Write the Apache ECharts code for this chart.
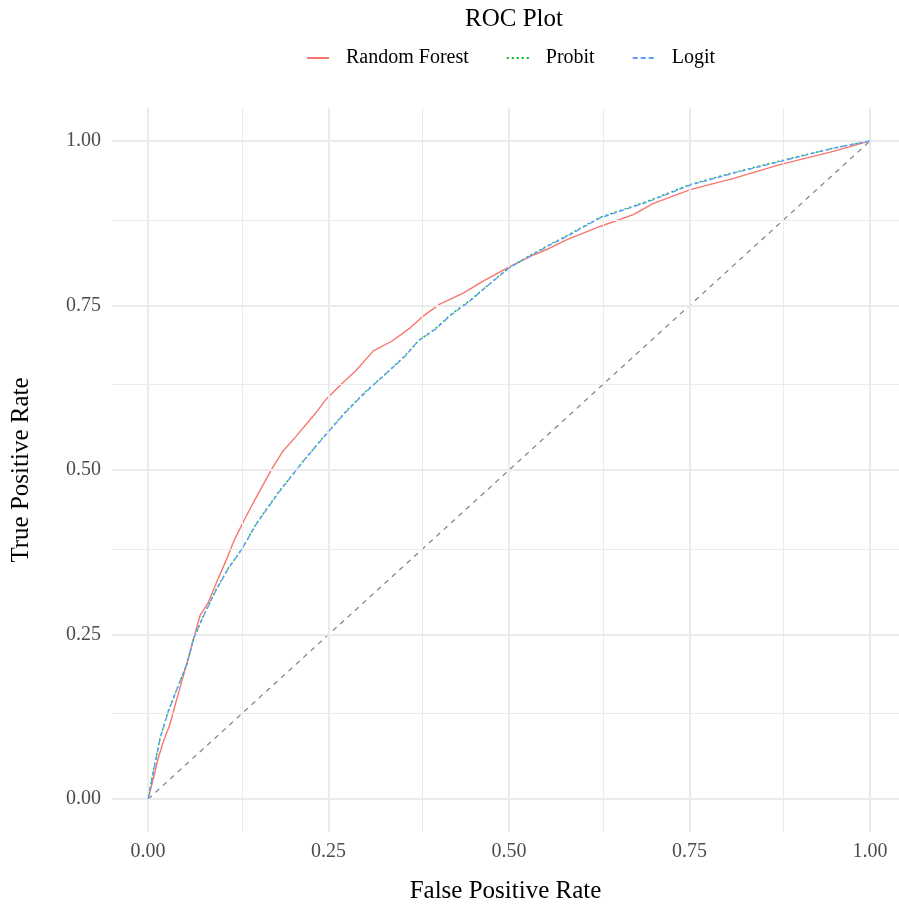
<!DOCTYPE html>
<html>
<head>
<meta charset="utf-8">
<script src="https://cdn.jsdelivr.net/npm/echarts@6/dist/echarts.min.js"></script>
<style>html,body{margin:0;padding:0;background:#fff;}#chart{width:899px;height:909px;}</style>
</head>
<body>
<div id="chart"></div>
<script>
var titleText = 'ROC Plot';
var xName = 'False Positive Rate';
var yName = 'True Positive Rate';
var seriesNames = ['Random Forest', 'Probit', 'Logit'];
var majorTicks = [0, 0.25, 0.5, 0.75, 1];
var minorTicks = [0.125, 0.375, 0.625, 0.875];

var rfPoints = [
  [0,0],[0.0074,0.032],[0.014,0.062],[0.021,0.087],[0.030,0.113],[0.040,0.153],
  [0.049,0.188],[0.0605,0.234],[0.072,0.279],[0.0835,0.299],[0.097,0.335],[0.109,0.365],
  [0.120,0.395],[0.134,0.426],[0.148,0.455],[0.171,0.501],[0.187,0.529],[0.204,0.550],
  [0.231,0.585],[0.247,0.608],[0.270,0.633],[0.287,0.650],[0.312,0.681],[0.338,0.696],
  [0.363,0.716],[0.380,0.733],[0.404,0.752],[0.437,0.769],[0.464,0.787],[0.501,0.809],
  [0.530,0.825],[0.552,0.835],[0.580,0.850],[0.626,0.870],[0.672,0.888],[0.700,0.905],
  [0.751,0.926],[0.811,0.943],[0.875,0.964],[0.949,0.984],[1,1]
];
var probitPoints = [
  [0,0],[0.0072,0.043],[0.0166,0.093],[0.028,0.134],[0.042,0.173],[0.054,0.205],
  [0.063,0.243],[0.077,0.279],[0.093,0.316],[0.111,0.351],[0.130,0.380],[0.150,0.419],
  [0.181,0.467],[0.2175,0.517],[0.245,0.553],[0.273,0.588],[0.301,0.619],[0.333,0.650],
  [0.356,0.674],[0.374,0.696],[0.398,0.715],[0.418,0.735],[0.446,0.758],[0.469,0.779],
  [0.488,0.797],[0.501,0.808],[0.529,0.826],[0.557,0.843],[0.575,0.853],[0.626,0.884],
  [0.691,0.908],[0.751,0.934],[0.811,0.952],[0.880,0.971],[0.949,0.989],[1,1]
];
var logitPoints = [
  [0,0],[0.0074,0.042],[0.0166,0.092],[0.028,0.133],[0.042,0.173],[0.054,0.206],
  [0.063,0.244],[0.077,0.279],[0.093,0.315],[0.111,0.350],[0.130,0.380],[0.150,0.418],
  [0.181,0.466],[0.2175,0.517],[0.245,0.552],[0.273,0.587],[0.301,0.618],[0.333,0.650],
  [0.356,0.673],[0.374,0.696],[0.398,0.714],[0.418,0.734],[0.446,0.757],[0.469,0.779],
  [0.488,0.796],[0.501,0.808],[0.529,0.825],[0.557,0.842],[0.575,0.852],[0.626,0.883],
  [0.691,0.907],[0.751,0.933],[0.811,0.951],[0.880,0.970],[0.949,0.989],[1,1]
];
var diagonalPoints = [[0,0],[1,1]];

var FONT = '"Liberation Serif", "DejaVu Serif", serif';
var GRID_COLOR = '#ebebeb';

var gridLines = [];
majorTicks.forEach(function (v) {
  gridLines.push({xAxis: v, lineStyle: {color: GRID_COLOR, width: 2, type: 'solid'}});
  gridLines.push({yAxis: v, lineStyle: {color: GRID_COLOR, width: 2, type: 'solid'}});
});
minorTicks.forEach(function (v) {
  gridLines.push({xAxis: v, lineStyle: {color: GRID_COLOR, width: 1, type: 'solid'}});
  gridLines.push({yAxis: v, lineStyle: {color: GRID_COLOR, width: 1, type: 'solid'}});
});

var chart = echarts.init(document.getElementById('chart'), null, {renderer: 'canvas'});
chart.setOption({
  animation: false,
  backgroundColor: '#ffffff',
  title: {
    text: titleText,
    left: 509,
    top: 2,
    textAlign: 'center',
    textStyle: {fontFamily: FONT, fontSize: 25, fontWeight: 'normal', color: '#000'}
  },
  legend: {
    data: seriesNames,
    left: 301,
    top: 43,
    itemWidth: 22,
    itemHeight: 14,
    itemGap: 37,
    itemStyle: {opacity: 0},
    textStyle: {fontFamily: FONT, fontSize: 20, color: '#000', padding: [0, 0, 0, 12]}
  },
  grid: {left: 112, top: 108, right: 0, bottom: 75, containLabel: false},
  xAxis: {
    type: 'value', min: -0.05, max: 1.04,
    name: xName, nameLocation: 'middle', nameGap: 47,
    nameTextStyle: {fontFamily: FONT, fontSize: 25, color: '#000'},
    axisLine: {show: false}, axisTick: {show: false}, splitLine: {show: false},
    axisLabel: {
      customValues: majorTicks, margin: 10,
      fontFamily: FONT, fontSize: 20, color: '#4d4d4d',
      formatter: function (v) { return v.toFixed(2); }
    }
  },
  yAxis: {
    type: 'value', min: -0.05, max: 1.05,
    name: yName, nameLocation: 'middle', nameGap: 78, nameRotate: 90,
    nameTextStyle: {fontFamily: FONT, fontSize: 25, color: '#000'},
    axisLine: {show: false}, axisTick: {show: false}, splitLine: {show: false},
    axisLabel: {
      customValues: majorTicks, margin: 11,
      fontFamily: FONT, fontSize: 20, color: '#4d4d4d',
      formatter: function (v) { return v.toFixed(2); }
    }
  },
  series: [
    {
      name: '_grid', type: 'line', data: [], z: 0, silent: true,
      markLine: {silent: true, symbol: ['none', 'none'], label: {show: false}, animation: false, data: gridLines}
    },
    {
      name: '_diag', type: 'line', data: diagonalPoints, showSymbol: false, symbol: 'none', silent: true, z: 2,
      lineStyle: {color: '#7f7f7f', width: 1.2, type: [5, 5]}
    },
    {
      name: seriesNames[0], type: 'line', data: rfPoints, showSymbol: false, symbol: 'none', z: 3,
      itemStyle: {color: '#F8766D'},
      lineStyle: {color: '#F8766D', width: 1.4, type: 'solid'}
    },
    {
      name: seriesNames[1], type: 'line', data: probitPoints, showSymbol: false, symbol: 'none', z: 4,
      itemStyle: {color: '#00BA38'},
      lineStyle: {color: '#00BA38', width: 1.4, type: [2, 3]}
    },
    {
      name: seriesNames[2], type: 'line', data: logitPoints, showSymbol: false, symbol: 'none', z: 5,
      itemStyle: {color: '#619CFF'},
      lineStyle: {color: '#619CFF', width: 1.4, type: [5, 3]}
    }
  ]
});
</script>
</body>
</html>
